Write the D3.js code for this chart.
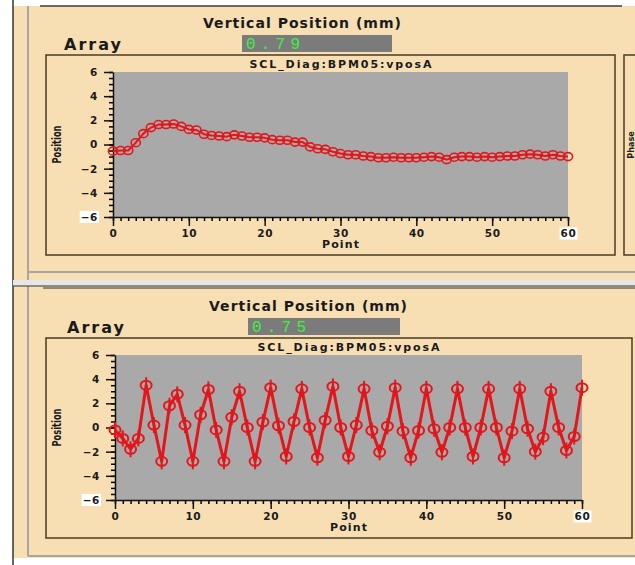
<!DOCTYPE html>
<html>
<head>
<meta charset="utf-8">
<script src="https://cdn.jsdelivr.net/npm/d3@7"></script>
<style>
  body { margin: 0; background: #fff; }
  svg { display: block; }
  text { font-family: "DejaVu Sans", Verdana, sans-serif; font-weight: bold; }
</style>
</head>
<body>
<svg id="chart" width="635" height="565"></svg>
<script>
// Data (point index 0..60, position in mm)

var points = d3.range(0, 61);   // x values, one sample per point

var upperValues = [
  -0.55, -0.5, -0.5, 0.15, 0.9, 1.4, 1.65, 1.65, 1.7, 1.5,
  1.25, 1.2, 0.85, 0.75, 0.7, 0.65, 0.8, 0.7, 0.6, 0.6,
  0.55, 0.4, 0.35, 0.35, 0.2, 0.2, -0.2, -0.35, -0.4, -0.6,
  -0.75, -0.85, -0.85, -0.95, -1.0, -1.1, -1.1, -1.05, -1.1, -1.1,
  -1.1, -1.05, -1.0, -1.05, -1.25, -1.05, -1.0, -1.0, -1.05, -1.0,
  -1.05, -1.0, -0.95, -0.95, -0.85, -0.8, -0.85, -0.95, -0.85, -0.95,
  -1.0
];

var lowerValues = [
  -0.2, -0.9, -1.8, -0.9, 3.5, 0.2, -2.8, 1.8, 2.75, 0.2,
  -2.8, 1.05, 3.15, -0.2, -2.8, 0.85, 3.0, 0.0, -2.8, 0.45,
  3.3, 0.15, -2.4, 0.5, 3.2, 0.0, -2.5, 0.6, 3.4, 0.0,
  -2.4, 0.2, 3.2, -0.25, -2.05, 0.1, 3.3, -0.3, -2.5, -0.25,
  3.2, -0.1, -2.05, 0.0, 3.2, 0.0, -2.4, 0.0, 3.2, 0.0,
  -2.5, -0.3, 3.2, -0.1, -2.0, -0.8, 3.0, 0.0, -1.9, -0.75,
  3.3
];

var yTicks = [-6, -4, -2, 0, 2, 4, 6];
var xTicks = [0, 10, 20, 30, 40, 50, 60];
var readouts = ['0.79', '0.75'];

var panelBg = '#f7dfb3';
var plotBg = '#a9a9a9';
var frameColor = '#4b3b22';
var red = '#e3161b';

var svg = d3.select('#chart');

// Window background and outer chrome
svg.append('rect').attr('x', 13).attr('y', 6).attr('width', 622).attr('height', 552).attr('fill', panelBg);
svg.append('line').attr('x1', 13).attr('x2', 13).attr('y1', 0).attr('y2', 565).attr('stroke', '#333').attr('stroke-width', 1.5);
svg.append('line').attr('x1', 40).attr('x2', 622).attr('y1', 6).attr('y2', 6).attr('stroke', '#3a3a3a').attr('stroke-width', 1.5);
svg.append('line').attr('x1', 28).attr('x2', 28).attr('y1', 6).attr('y2', 556).attr('stroke', '#a6a6a6').attr('stroke-width', 2);

// separator between the two panels
svg.append('line').attr('x1', 28).attr('x2', 635).attr('y1', 272).attr('y2', 272).attr('stroke', '#a6a6a6').attr('stroke-width', 2);
svg.append('rect').attr('x', 13).attr('y', 280).attr('width', 622).attr('height', 6).attr('fill', '#e6e6e6');
svg.append('line').attr('x1', 13).attr('x2', 635).attr('y1', 286).attr('y2', 286).attr('stroke', '#333').attr('stroke-width', 1.2);
svg.append('line').attr('x1', 43).attr('x2', 635).attr('y1', 288).attr('y2', 288).attr('stroke', '#333').attr('stroke-width', 1);
svg.append('line').attr('x1', 28).attr('x2', 635).attr('y1', 556).attr('y2', 556).attr('stroke', '#a6a6a6').attr('stroke-width', 2);

// partially visible neighbour panel on the upper right
svg.append('rect').attr('x', 624).attr('y', 55).attr('width', 30).attr('height', 200)
  .attr('fill', 'none').attr('stroke', frameColor).attr('stroke-width', 1.5);
svg.append('text').attr('transform', 'translate(634,145) rotate(-90)')
  .attr('text-anchor', 'middle').style('font-size', '9px').style('font-stretch', 'condensed')
  .attr('fill', '#222').text('Phase');

function drawPanel(cfg) {
  var g = svg.append('g');

  g.append('text').attr('x', cfg.titleX).attr('y', cfg.titleY)
    .attr('text-anchor', 'middle').style('font-size', '14px')
    .attr('textLength', 198).attr('lengthAdjust', 'spacing')
    .attr('fill', '#1a1a1a').text('Vertical Position (mm)');

  g.append('text').attr('x', cfg.arrayX).attr('y', cfg.arrayY)
    .style('font-size', '16px').attr('textLength', 57).attr('lengthAdjust', 'spacing')
    .attr('fill', '#1a1a1a').text('Array');

  // readout box
  g.append('rect').attr('x', cfg.box[0]).attr('y', cfg.box[1]).attr('width', cfg.box[2]).attr('height', cfg.box[3])
    .attr('fill', '#7b7b7b');
  g.append('text').attr('x', cfg.box[0] + 4).attr('y', cfg.box[1] + cfg.box[3] - 3)
    .style('font-family', '"Liberation Mono", "DejaVu Sans Mono", monospace').style('font-weight', 'normal')
    .style('font-size', '16px').attr('textLength', 54).attr('lengthAdjust', 'spacing')
    .attr('fill', '#3ff03f').text(cfg.readout);

  // chart frame
  g.append('rect').attr('x', cfg.frame[0]).attr('y', cfg.frame[1]).attr('width', cfg.frame[2]).attr('height', cfg.frame[3])
    .attr('fill', 'none').attr('stroke', frameColor).attr('stroke-width', 1.5);

  var x = d3.scaleLinear().domain([0, 60]).range([cfg.plot[0], cfg.plot[1]]);
  var y = d3.scaleLinear().domain([-6, 6]).range([cfg.plot[3], cfg.plot[2]]);

  g.append('text').attr('x', (x(0) + x(60)) / 2).attr('y', cfg.frame[1] + 13)
    .attr('text-anchor', 'middle').style('font-size', '11px')
    .attr('textLength', 182).attr('lengthAdjust', 'spacing')
    .attr('fill', '#1a1a1a').text('SCL_Diag:BPM05:vposA');

  g.append('rect').attr('x', x(0)).attr('y', y(6)).attr('width', x(60) - x(0)).attr('height', y(-6) - y(6))
    .attr('fill', plotBg);

  // minor ticks
  g.append('g').attr('transform', 'translate(0,' + y(-6) + ')')
    .call(d3.axisBottom(x).tickValues(d3.range(0, 61, 1)).tickSize(4).tickFormat(''))
    .call(function (a) { a.select('.domain').remove(); a.selectAll('line').attr('stroke-width', 1.5); });
  g.append('g').attr('transform', 'translate(' + x(0) + ',0)')
    .call(d3.axisLeft(y).tickValues(d3.range(-6, 6.01, 0.5)).tickSize(4).tickFormat(''))
    .call(function (a) { a.select('.domain').remove(); a.selectAll('line').attr('stroke-width', 1.5); });

  // major axes
  var xAxis = g.append('g').attr('transform', 'translate(0,' + y(-6) + ')')
    .call(d3.axisBottom(x).tickValues(xTicks).tickSize(9).tickSizeOuter(0).tickPadding(4));
  var yAxis = g.append('g').attr('transform', 'translate(' + x(0) + ',0)')
    .call(d3.axisLeft(y).tickValues(yTicks).tickSize(9).tickSizeOuter(0).tickPadding(6)
      .tickFormat(function (d) { return d < 0 ? '\u2212' + (-d) : d; }));

  [xAxis, yAxis].forEach(function (a) {
    a.select('.domain').attr('stroke', '#111').attr('stroke-width', 1.5);
    a.selectAll('.tick line').attr('stroke', '#111').attr('stroke-width', 1.5);
    a.selectAll('.tick text').attr('fill', '#1a1a1a')
      .style('font-family', '"DejaVu Sans", Verdana, sans-serif').style('font-weight', 'bold')
      .style('font-size', '10.5px').style('letter-spacing', '0.6px');
  });

  // white highlight behind "-6" and "60" labels
  [yAxis.selectAll('.tick').filter(function (d) { return d === -6; }),
   xAxis.selectAll('.tick').filter(function (d) { return d === 60; })].forEach(function (t) {
    var txt = t.select('text');
    var b = txt.node().getBBox();
    t.insert('rect', 'text').attr('x', b.x - 1).attr('y', b.y).attr('width', b.width + 2).attr('height', b.height)
      .attr('fill', '#fff');
  });

  g.append('text').attr('x', (x(0) + x(60)) / 2).attr('y', y(-6) + 31)
    .attr('text-anchor', 'middle').style('font-size', '11px').attr('textLength', 37).attr('lengthAdjust', 'spacing')
    .attr('fill', '#1a1a1a').text('Point');

  g.append('text').attr('transform', 'translate(' + (cfg.frame[0] + 15) + ',' + y(0) + ') rotate(-90)')
    .attr('text-anchor', 'middle').style('font-family', '"DejaVu Sans Condensed", "DejaVu Sans", sans-serif')
    .style('font-stretch', 'condensed').style('font-size', '12px')
    .attr('textLength', 38).attr('lengthAdjust', 'spacingAndGlyphs')
    .attr('fill', '#1a1a1a').text('Position');

  var pts = points.map(function (p, i) { return { x: p, y: cfg.values[i] }; });

  g.append('path').datum(pts)
    .attr('fill', 'none').attr('stroke', red).attr('stroke-width', cfg.lineWidth)
    .attr('stroke-linejoin', 'round')
    .attr('d', d3.line().x(function (d) { return x(d.x); }).y(function (d) { return y(d.y); }));

  var marks = g.selectAll('g.mark').data(pts).enter().append('g').attr('class', 'mark')
    .attr('transform', function (d) { return 'translate(' + x(d.x) + ',' + y(d.y) + ')'; });

  if (cfg.stems) {
    marks.append('line').attr('y1', -8).attr('y2', 8)
      .attr('stroke', red).attr('stroke-width', 2);
  }
  marks.append('ellipse').attr('rx', cfg.rx).attr('ry', cfg.ry)
    .attr('fill', 'none').attr('stroke', red).attr('stroke-width', cfg.markWidth);
}

drawPanel({
  values: upperValues, readout: readouts[0],
  titleX: 302, titleY: 28, arrayX: 64, arrayY: 50,
  box: [242, 35, 150, 17],
  frame: [46, 55, 569, 200],
  plot: [113, 568, 72, 217],
  lineWidth: 2, rx: 4.6, ry: 4, markWidth: 1.6, stems: false
});

drawPanel({
  values: lowerValues, readout: readouts[1],
  titleX: 308, titleY: 311, arrayX: 67, arrayY: 333,
  box: [248, 318, 152, 17],
  frame: [46, 338, 586, 200],
  plot: [115, 582, 355, 500],
  lineWidth: 3, rx: 5.5, ry: 4.5, markWidth: 2, stems: true
});
</script>
</body>
</html>
